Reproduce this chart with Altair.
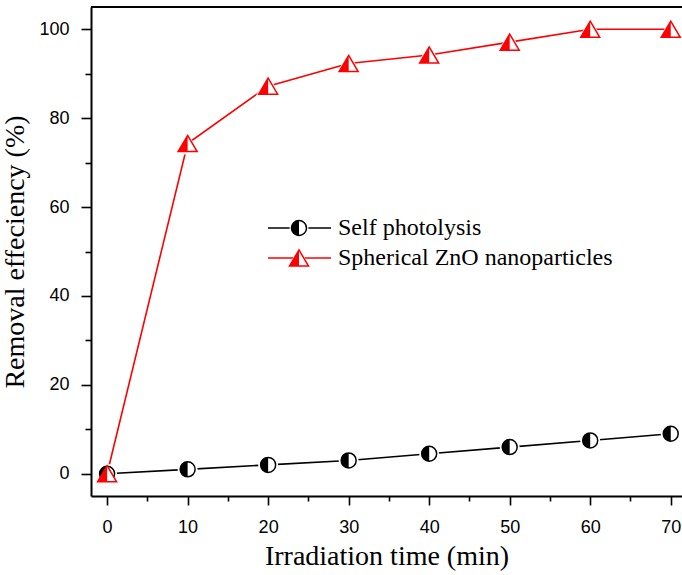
import altair as alt
import pandas as pd

# Irradiation time (min) and removal efficiency (%) for each run
time_min = [0, 10, 20, 30, 40, 50, 60, 70]
self_photolysis = [0, 1, 2, 3, 4.5, 6, 7.5, 9]
zno_nanoparticles = [0, 74.3, 87.2, 92.3, 94.2, 97.1, 100, 100]

series_names = ["Self photolysis", "Spherical ZnO nanoparticles"]

W, H = 591, 489
X_DOMAIN = [-2, 71.4]
Y_DOMAIN = [-5, 105]

SERIF = "Liberation Serif"
SANS = "Liberation Sans"

self_df = pd.DataFrame({"time": time_min, "removal": self_photolysis})
zno_df = pd.DataFrame({"time": time_min, "removal": zno_nanoparticles})

# symbol paths in the unit square (-1..1)
HALF_CIRCLE = "M0,-1A1,1,0,0,0,0,1Z"
TRI = "M0,-0.85L1,0.85L-1,0.85Z"
HALF_TRI = "M0,-0.85L0,0.85L-1,0.85Z"

major = lambda step: f"datum.value % {step} === 0"

x_enc = alt.X(
    "time:Q",
    scale=alt.Scale(domain=X_DOMAIN, nice=False, zero=False),
    axis=alt.Axis(
        title="Irradiation time (min)",
        values=list(range(0, 71, 5)),
        labelExpr=f"{major(10)} ? datum.label : ''",
        tickSize={"condition": {"test": major(10), "value": 9}, "value": 5},
        labelPadding=13,
        titlePadding=6,
    ),
)
y_enc = alt.Y(
    "removal:Q",
    scale=alt.Scale(domain=Y_DOMAIN, nice=False, zero=False),
    axis=alt.Axis(
        title="Removal effeciency (%)",
        values=list(range(0, 101, 10)),
        labelExpr=f"{major(20)} ? datum.label : ''",
        tickSize={"condition": {"test": major(20), "value": 10}, "value": 6},
        labelPadding=12,
        titlePadding=9,
    ),
)

base_self = alt.Chart(self_df).encode(x=x_enc, y=y_enc)
base_zno = alt.Chart(zno_df).encode(x=x_enc, y=y_enc)

line_self = base_self.mark_line(color="black", strokeWidth=1.6)
line_zno = base_zno.mark_line(color="#ff0000", strokeWidth=1.6)

halo_self = base_self.mark_point(shape="circle", filled=True, color="white", size=400, opacity=1)
halo_zno = base_zno.mark_point(shape=TRI, filled=True, color="white", size=676, opacity=1)

circle_bg = base_self.mark_point(
    shape="circle", filled=False, fill="white", stroke="black", strokeWidth=1.5, size=225, opacity=1
)
circle_half = base_self.mark_point(shape=HALF_CIRCLE, filled=True, color="black", size=225, opacity=1)

tri_bg = base_zno.mark_point(
    shape=TRI, filled=False, fill="white", stroke="#ff0000", strokeWidth=1.5, size=361, opacity=1
)
tri_half = base_zno.mark_point(shape=HALF_TRI, filled=True, color="#ff0000", size=361, opacity=1)

# frame line along the top of the plot
top_frame = alt.Chart(self_df).mark_rule(color="black", strokeWidth=2).encode(
    x=alt.value(0), x2=alt.value(W), y=alt.value(0)
)

# legend, drawn inside the plot area
legend_df = pd.DataFrame({"name": series_names})


def legend_row(name, ypix, color, full_shape, half_shape, size, line_color):
    src = alt.Chart(legend_df).transform_filter(alt.datum.name == name)
    rule = src.mark_rule(color=line_color, strokeWidth=1.6).encode(
        x=alt.value(177), x2=alt.value(240), y=alt.value(ypix)
    )
    halo = src.mark_point(shape=full_shape, filled=True, color="white", size=size * 1.6, opacity=1).encode(
        x=alt.value(208), y=alt.value(ypix)
    )
    bg = src.mark_point(
        shape=full_shape, filled=False, fill="white", stroke=color, strokeWidth=1.5, size=size, opacity=1
    ).encode(x=alt.value(208), y=alt.value(ypix))
    half = src.mark_point(shape=half_shape, filled=True, color=color, size=size, opacity=1).encode(
        x=alt.value(208), y=alt.value(ypix)
    )
    text = src.mark_text(
        align="left", baseline="middle", font=SERIF, fontSize=24, color="black"
    ).encode(x=alt.value(247), y=alt.value(ypix), text="name:N")
    return [rule, halo, bg, half, text]


legend_layers = legend_row(series_names[0], 221, "black", "circle", HALF_CIRCLE, 225, "black") + legend_row(
    series_names[1], 251, "#ff0000", TRI, HALF_TRI, 361, "#ff0000"
)

chart = (
    alt.layer(
        line_self,
        line_zno,
        halo_self,
        halo_zno,
        circle_bg,
        circle_half,
        tri_bg,
        tri_half,
        top_frame,
        *legend_layers,
    )
    .properties(
        width=W,
        height=H,
        background="white",
        autosize=alt.AutoSizeParams(type="none"),
        padding={"left": 91, "top": 7, "right": 0, "bottom": 79},
    )
    .configure_view(stroke=None)
    .configure_axis(
        domainColor="black",
        domainWidth=2,
        tickColor="black",
        tickWidth=1.6,
        grid=False,
        labelFont=SANS,
        labelFontSize=18,
        labelColor="black",
        titleFont=SERIF,
        titleFontSize=28,
        titleFontWeight="normal",
        titleColor="black",
    )
)

chart.save("out.html", embed_options={"renderer": "svg", "actions": False})
